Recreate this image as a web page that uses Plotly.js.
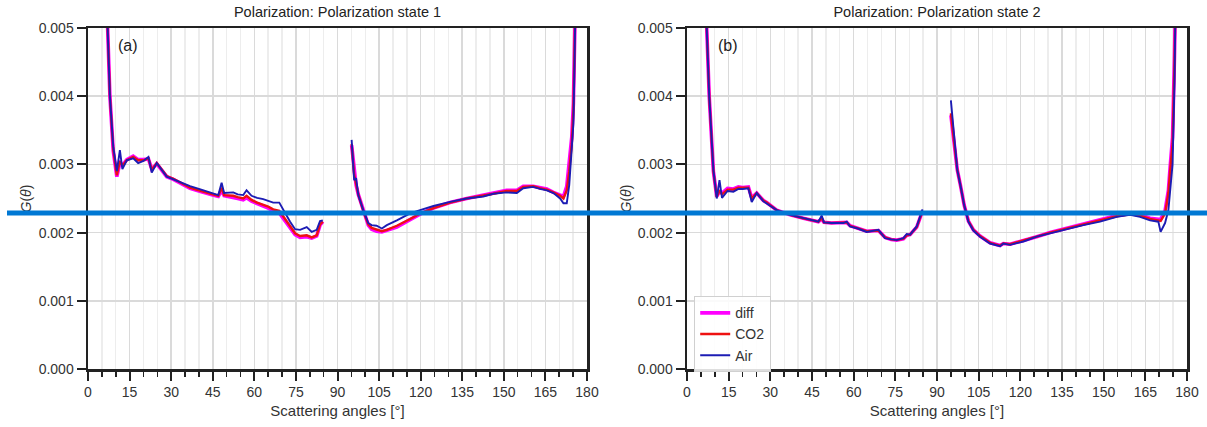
<!DOCTYPE html>
<html><head><meta charset="utf-8">
<script src="https://cdn.plot.ly/plotly-3.0.1.min.js"></script>
<style>
html,body{margin:0;padding:0;background:#fff;width:1207px;height:427px;overflow:hidden;position:relative}
#p1{position:absolute;left:15px;top:0;width:585px;height:427px}
#p2{position:absolute;left:615px;top:0;width:592px;height:427px}
#ov{position:absolute;left:0;top:0;width:1207px;height:427px;pointer-events:none}
</style></head><body>
<div id="p1"></div><div id="p2"></div><div id="ov"></div>
<script>
// ---- Panel (a): Polarization state 1 ----
const anglesA = [6.5, 7.0, 7.9, 9.1, 10.4, 11.5, 12.4, 14, 16.3, 18.1, 20, 21.8, 23, 24.8, 28.4, 30.8, 33.5, 36.8, 40, 42.8, 45, 47, 48.2, 49.1, 52.4, 54, 56, 57.2, 59, 61, 63.2, 65, 66.8, 69, 71.1, 72.9, 74.7, 76.5, 78.9, 80.7, 82.5, 83.7, 84.7, 90, 95.1, 96, 96.7, 97.5, 99.3, 101.1, 102.3, 104.1, 106, 107.8, 111.4, 116.2, 119.8, 124.6, 130.6, 136.6, 142.6, 146.2, 151, 154.7, 157, 160.6, 163, 165.5, 167.9, 170.3, 171.5, 172.7, 173.6, 174.5, 175.1, 175.5, 176];
const airA  = [0.0062, 0.0051, 0.0040, 0.00326, 0.00290, 0.00321, 0.00293, 0.00306, 0.00309, 0.00302, 0.00305, 0.00311, 0.00288, 0.00302, 0.00282, 0.00278, 0.00274, 0.00268, 0.00264, 0.00260, 0.00258, 0.00255, 0.00273, 0.00258, 0.00259, 0.00256, 0.00255, 0.00262, 0.00254, 0.00251, 0.00249, 0.00247, 0.00244, 0.00244, 0.00228, 0.00216, 0.00205, 0.00204, 0.00208, 0.00201, 0.00204, 0.00217, 0.00218, null, 0.00336, 0.00277, 0.00280, 0.00255, 0.00233, 0.00214, 0.00211, 0.00210, 0.00206, 0.00211, 0.00218, 0.00228, 0.00233, 0.00239, 0.00245, 0.00250, 0.00253, 0.00257, 0.00259, 0.00258, 0.00265, 0.00267, 0.00264, 0.00262, 0.00258, 0.00250, 0.00243, 0.00243, 0.00270, 0.00320, 0.0036, 0.0045, 0.0058];
const co2A  = [0.0062, 0.0051, 0.0040, 0.00322, 0.00284, 0.00305, 0.00298, 0.00306, 0.00311, 0.00306, 0.00306, 0.00309, 0.00292, 0.00302, 0.00283, 0.00279, 0.00273, 0.00266, 0.00262, 0.00258, 0.00256, 0.00254, 0.00266, 0.00255, 0.00254, 0.00252, 0.00250, 0.00254, 0.00248, 0.00244, 0.00241, 0.00238, 0.00234, 0.00232, 0.00220, 0.00210, 0.00199, 0.00195, 0.00196, 0.00193, 0.00196, 0.00212, 0.00216, null, 0.00330, 0.00285, 0.00272, 0.00256, 0.00232, 0.00212, 0.00207, 0.00204, 0.00202, 0.00204, 0.00210, 0.00220, 0.00228, 0.00236, 0.00244, 0.00250, 0.00254, 0.00257, 0.00261, 0.00261, 0.00267, 0.00268, 0.00265, 0.00263, 0.00259, 0.00254, 0.00250, 0.00262, 0.00290, 0.00330, 0.0038, 0.0047, 0.0058];
const diffA = [0.0062, 0.0051, 0.0040, 0.00320, 0.00282, 0.00302, 0.00299, 0.00307, 0.00312, 0.00307, 0.00307, 0.00308, 0.00293, 0.00301, 0.00282, 0.00278, 0.00272, 0.00265, 0.00261, 0.00257, 0.00255, 0.00253, 0.00262, 0.00254, 0.00252, 0.00250, 0.00248, 0.00251, 0.00246, 0.00242, 0.00239, 0.00236, 0.00232, 0.00229, 0.00217, 0.00207, 0.00197, 0.00193, 0.00194, 0.00192, 0.00195, 0.00211, 0.00216, null, 0.00328, 0.00288, 0.00270, 0.00256, 0.00232, 0.00211, 0.00205, 0.00202, 0.00201, 0.00203, 0.00208, 0.00219, 0.00227, 0.00236, 0.00244, 0.00250, 0.00255, 0.00258, 0.00262, 0.00262, 0.00268, 0.00268, 0.00266, 0.00264, 0.00259, 0.00255, 0.00253, 0.00268, 0.00300, 0.00340, 0.0039, 0.0048, 0.0058];

// ---- Panel (b): Polarization state 2 ----
const anglesB = [6.5, 7.1, 8, 9.5, 10.7, 11.7, 12.6, 14.6, 16.7, 18.5, 20, 22.1, 23.3, 25.1, 27.5, 28.7, 32.3, 37.1, 41.9, 45, 47.3, 48.5, 49.3, 52, 56.3, 57.5, 58.7, 61.5, 64.7, 68.9, 71.3, 73.5, 75.5, 77.9, 79.1, 80.3, 82.7, 84.8, 90, 95, 95.8, 96.5, 97.3, 98.5, 99.8, 101.3, 103.1, 105.5, 109.1, 112.7, 113.9, 116.3, 121.1, 125.9, 130.7, 136.7, 142.7, 148.7, 154.7, 159.5, 163.1, 166.7, 169.7, 170.5, 172.1, 173.3, 173.9, 174.8, 175.5, 176];
const airB  = [0.0062, 0.0050, 0.0040, 0.00292, 0.00250, 0.00277, 0.00251, 0.00261, 0.00260, 0.00264, 0.00264, 0.00265, 0.00245, 0.00258, 0.00246, 0.00243, 0.00233, 0.00226, 0.00221, 0.00218, 0.00216, 0.00225, 0.00215, 0.00214, 0.00214, 0.00216, 0.00209, 0.00206, 0.00201, 0.00204, 0.00192, 0.00190, 0.00189, 0.00192, 0.00198, 0.00197, 0.00209, 0.00234, null, 0.00394, 0.00355, 0.00322, 0.00292, 0.00268, 0.00240, 0.00216, 0.00203, 0.00194, 0.00184, 0.00180, 0.00184, 0.00182, 0.00187, 0.00194, 0.00199, 0.00205, 0.00211, 0.00216, 0.00223, 0.00226, 0.00223, 0.00218, 0.00216, 0.00201, 0.00214, 0.00233, 0.00262, 0.00300, 0.0042, 0.0058];
const co2B  = [0.0062, 0.0050, 0.0040, 0.00290, 0.00252, 0.00262, 0.00256, 0.00263, 0.00263, 0.00266, 0.00266, 0.00266, 0.00250, 0.00258, 0.00247, 0.00244, 0.00233, 0.00226, 0.00221, 0.00218, 0.00216, 0.00221, 0.00215, 0.00214, 0.00214, 0.00215, 0.00210, 0.00206, 0.00202, 0.00203, 0.00193, 0.00190, 0.00189, 0.00191, 0.00196, 0.00197, 0.00208, 0.00232, null, 0.00375, 0.00348, 0.00318, 0.00292, 0.00268, 0.00240, 0.00217, 0.00204, 0.00195, 0.00185, 0.00181, 0.00184, 0.00183, 0.00188, 0.00194, 0.00200, 0.00206, 0.00212, 0.00218, 0.00224, 0.00227, 0.00225, 0.00220, 0.00218, 0.00217, 0.00228, 0.00258, 0.00290, 0.00330, 0.0045, 0.0058];
const diffB = [0.0062, 0.0050, 0.0040, 0.00290, 0.00253, 0.00260, 0.00258, 0.00265, 0.00264, 0.00267, 0.00266, 0.00267, 0.00251, 0.00258, 0.00247, 0.00244, 0.00233, 0.00226, 0.00221, 0.00218, 0.00216, 0.00220, 0.00215, 0.00214, 0.00214, 0.00215, 0.00210, 0.00206, 0.00202, 0.00203, 0.00193, 0.00190, 0.00189, 0.00191, 0.00196, 0.00197, 0.00208, 0.00232, null, 0.00372, 0.00346, 0.00317, 0.00292, 0.00268, 0.00240, 0.00217, 0.00204, 0.00195, 0.00185, 0.00181, 0.00184, 0.00183, 0.00188, 0.00194, 0.00200, 0.00206, 0.00212, 0.00218, 0.00225, 0.00228, 0.00226, 0.00221, 0.00219, 0.00219, 0.00232, 0.00262, 0.00295, 0.00340, 0.0046, 0.0058];

const seriesNames = ['diff', 'CO2', 'Air'];
const titles = ['Polarization: Polarization state 1', 'Polarization: Polarization state 2'];
const panelLetters = ['(a)', '(b)'];
const xTitle = 'Scattering angles [°]';
const yTitle = '<i>G</i>(<i>θ</i>)';

const colors = ['#ff00ff', '#ee1111', '#1c1cb4'];
const widths = [3.6, 2.4, 1.9];
const FONT = '"Liberation Sans", Arial, Helvetica, sans-serif';

function traces(ang, vals, showLegend) {
  return vals.map((v, i) => ({
    type: 'scatter', mode: 'lines', x: ang, y: v, name: seriesNames[i],
    line: {color: colors[i], width: widths[i]}, connectgaps: false,
    showlegend: showLegend, hoverinfo: 'skip'
  }));
}

function layout(idx, W, ml, mr, withLegend) {
  const axisCommon = {
    showline: true, linewidth: 2.5, linecolor: '#222', mirror: true,
    ticks: 'outside', ticklen: 9, tickwidth: 2, tickcolor: '#222',
    tickfont: {size: 14, color: '#333', family: FONT},
    showgrid: true, gridcolor: '#dadada', gridwidth: 1.6, zeroline: false
  };
  return {
    width: W, height: 427,
    margin: {l: ml, r: mr, t: 28, b: 58},
    paper_bgcolor: 'rgba(0,0,0,0)', plot_bgcolor: '#fff',
    font: {family: FONT, color: '#333'},
    title: {text: titles[idx], font: {size: 14.5, color: '#222', family: FONT},
            x: 0.5, xref: 'paper', xanchor: 'center', y: 1 - 12/427, yref: 'container', yanchor: 'middle'},
    xaxis: Object.assign({}, axisCommon, {
      range: [0, 180], tick0: 0, dtick: 15,
      minor: {tick0: 0, dtick: 5, ticks: 'outside', ticklen: 5, tickwidth: 1.6, tickcolor: '#222',
              showgrid: true, gridcolor: '#ededed', gridwidth: 1.4},
      title: {text: xTitle, font: {size: 15, color: '#333', family: FONT}, standoff: 6}
    }),
    yaxis: Object.assign({}, axisCommon, {
      range: [0, 0.005], tick0: 0, dtick: 0.001, tickformat: '.3f'
    }),
    showlegend: withLegend,
    legend: {x: 0.014, y: 0.214, xanchor: 'left', yanchor: 'top',
             bgcolor: 'rgba(255,255,255,0.85)', bordercolor: '#d0d0d0', borderwidth: 1.2,
             font: {size: 14, color: '#333', family: FONT}, tracegroupgap: 0},
    annotations: [
      {text: panelLetters[idx], xref: 'paper', yref: 'paper', x: (112.5 - ml) / (W - ml - mr) , y: 0.95,
       xanchor: 'center', yanchor: 'middle', showarrow: false, font: {size: 16, color: '#222', family: FONT}},
      {text: yTitle, xref: 'paper', yref: 'paper', x: 0, y: 0.5, xshift: 10 - ml,
       xanchor: 'center', yanchor: 'middle', textangle: -90, showarrow: false,
       font: {size: 14, color: '#333', family: FONT}}
    ]
  };
}

const cfg = {staticPlot: true, displayModeBar: false};
Plotly.newPlot('p1', traces(anglesA, [diffA, co2A, airA], false), layout(0, 585, 73, 13, false), cfg);
Plotly.newPlot('p2', traces(anglesB, [diffB, co2B, airB], true), layout(1, 592, 72, 20, true), cfg);

// overlay: the horizontal blue marker line across the figure
Plotly.newPlot('ov', [], {
  width: 1207, height: 427, margin: {l: 0, r: 0, t: 0, b: 0},
  paper_bgcolor: 'rgba(0,0,0,0)', plot_bgcolor: 'rgba(0,0,0,0)',
  xaxis: {visible: false, range: [0, 1]}, yaxis: {visible: false, range: [0, 1]},
  showlegend: false,
  shapes: [{type: 'line', xref: 'paper', yref: 'paper', x0: 7/1207, x1: 1, y0: 1 - 213/427, y1: 1 - 213/427,
            line: {color: '#0078d4', width: 5}}]
}, cfg);
</script></body></html>
